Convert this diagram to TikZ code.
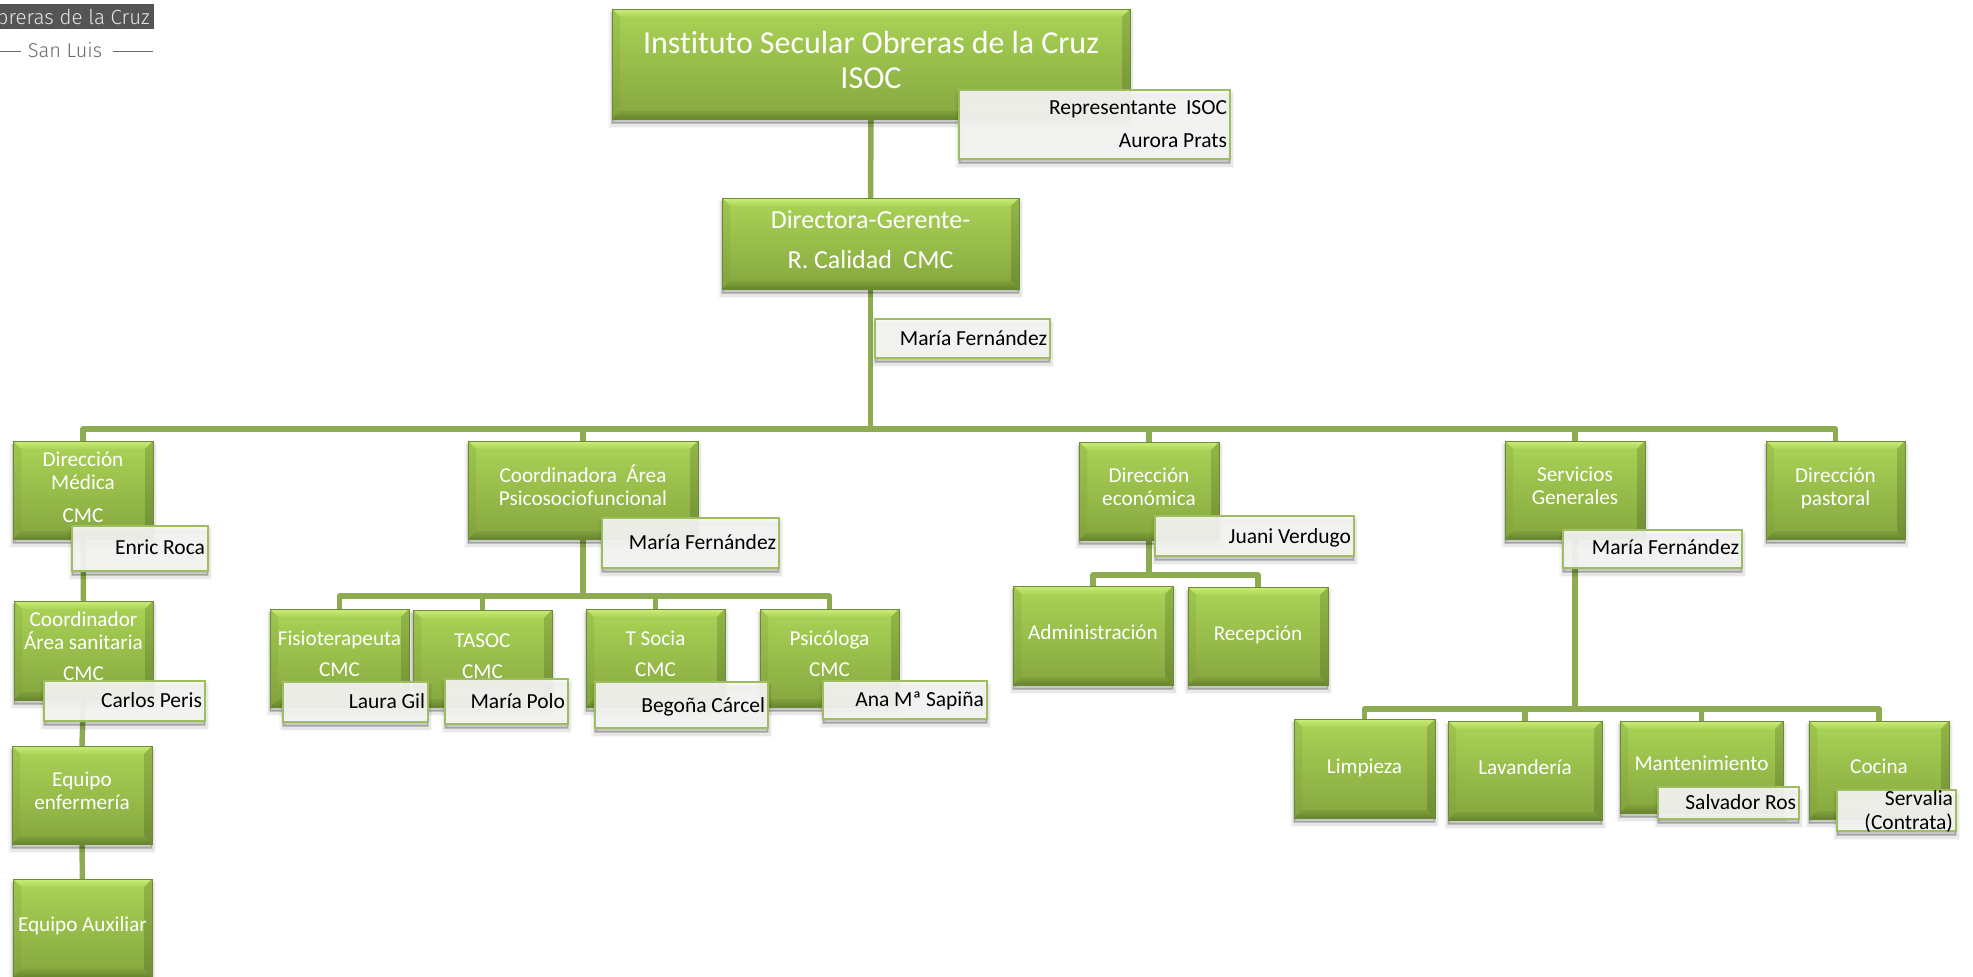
\documentclass[tikz,border=0pt]{standalone}
\usepackage{fontspec}
\setmainfont[Ligatures=NoCommon]{Carlito}
\newfontfamily\logofont{Fira Sans Light}
\usetikzlibrary{calc,backgrounds}
\newcommand\tfont[2]{\fontsize{#1}{#2}\selectfont}
\definecolor{conncol}{HTML}{8DAB50}
\definecolor{labeledge}{HTML}{9DBD5F}
\definecolor{labelfill}{HTML}{F5F5F4}
\definecolor{boxedge}{HTML}{6C8A34}
\definecolor{logogrey}{HTML}{555558}
\definecolor{logoline}{HTML}{6A6A6D}
\definecolor{boxtopa}{HTML}{A5CD52}
\definecolor{boxbot}{HTML}{7E9E3B}
\definecolor{bodytop}{HTML}{A7D054}
\definecolor{bodybot}{HTML}{88AA41}
\definecolor{toplight}{HTML}{CBEE78}
\definecolor{topdeep}{HTML}{A9D456}
\definecolor{lefttop}{HTML}{9FC64F}
\definecolor{leftbot}{HTML}{82A23D}
\definecolor{righttop}{HTML}{93B648}
\definecolor{rightbot}{HTML}{708E34}
\definecolor{bottop}{HTML}{80A03B}
\definecolor{botbot}{HTML}{67852E}
\tikzset{
  softshadow/.style={
    preaction={fill=black,fill opacity=.03,draw=black,draw opacity=.03,line width=8pt,transform canvas={yshift=-5pt}},
    preaction={fill=black,fill opacity=.06,draw=black,draw opacity=.06,line width=5pt,transform canvas={yshift=-5pt}},
    preaction={fill=black,fill opacity=.11,draw=black,draw opacity=.11,line width=2pt,transform canvas={yshift=-4pt}}},
  base/.style={rectangle,anchor=north west,inner xsep=0pt,inner ysep=0pt,outer sep=0pt},
  greenbox/.style={base,softshadow,draw=boxedge,line width=.6pt,text=white,align=center,
    font=\tfont{21.2}{23.5},
    path picture={
      \coordinate (nw) at (path picture bounding box.north west);
      \coordinate (ne) at (path picture bounding box.north east);
      \coordinate (se) at (path picture bounding box.south east);
      \coordinate (sw) at (path picture bounding box.south west);
      \coordinate (inw) at ($(nw)+(8,8)$);
      \coordinate (ine) at ($(ne)+(-8,8)$);
      \coordinate (ise) at ($(se)+(-8,-8)$);
      \coordinate (isw) at ($(sw)+(8,-8)$);
      \shade[top color=boxtopa,bottom color=boxbot] (nw) rectangle (se);
      \shade[top color=bodytop,bottom color=bodybot] (inw) rectangle (ise);
      \shade[top color=toplight,bottom color=topdeep] (nw) -- (ne) -- (ine) -- (inw) -- cycle;
      \shade[top color=lefttop,bottom color=leftbot] (nw) -- (inw) -- (isw) -- (sw) -- cycle;
      \shade[top color=righttop,bottom color=rightbot] (ne) -- (ine) -- (ise) -- (se) -- cycle;
      \shade[top color=bottop,bottom color=botbot] (sw) -- (isw) -- (ise) -- (se) -- cycle;
    }},
  glasslabel/.style={base,softshadow,draw=labeledge,line width=2pt,fill=labelfill,fill opacity=.93,text opacity=1,
    text=black,align=right,inner xsep=3pt,font=\tfont{21.5}{24}},
  conn/.style={draw=conncol,line width=5.5pt,line join=round},
}
% \gb[options]{name}{x1}{y1}{x2}{y2}{first baseline}{text}
\newcommand\gb[8][]{%
  \pgfmathsetmacro\boxw{#5-#3}\pgfmathsetmacro\boxh{#6-#4}\pgfmathsetmacro\boxb{#7-#4}\pgfmathsetmacro\boxd{\boxh-\boxb}%
  \node[greenbox,minimum width=\boxw pt,minimum height=\boxh pt,text width=\boxw pt,text height=\boxb pt,text depth=\boxd pt,#1] (#2) at (#3,#4) {\spaceskip=.22em\relax #8};}
\newcommand\lb[8][]{%
  \pgfmathsetmacro\boxw{#5-#3}\pgfmathsetmacro\boxt{\boxw-6}\pgfmathsetmacro\boxh{#6-#4}\pgfmathsetmacro\boxb{#7-#4}\pgfmathsetmacro\boxd{\boxh-\boxb}%
  \node[glasslabel,minimum width=\boxw pt,minimum height=\boxh pt,text width=\boxt pt,text height=\boxb pt,text depth=\boxd pt,#1] (#2) at (#3,#4) {\spaceskip=.22em\relax #8};}
\begin{document}
\begin{tikzpicture}[x=1pt,y=-1pt]
\useasboundingbox (0,0) rectangle (1973,977);
% logo
\fill[logogrey] (0,4) rectangle (154,29);
\begin{scope}
\clip (0,0) rectangle (1973,977);
\node[anchor=base east,text=white!90!black,inner sep=0pt,font=\logofont\fontsize{20.5}{24}\selectfont] (logoa) at (150,24) {Obreras de la Cruz};
\end{scope}
\node[anchor=base,text=logoline,inner sep=0pt,font=\logofont\fontsize{20}{22}\selectfont] (logob) at (65,57) {San Luis};
\draw[logoline,line width=1pt] (0,51) -- (21,51) (113,51) -- (153,51);
% green boxes
\gb[font=\tfont{32}{35}]{top}{612}{9}{1130}{119}{53}{Instituto Secular Obreras de la Cruz\\ISOC}
\gb[font=\tfont{26}{40}]{dir}{722}{198}{1019}{289}{228}{Directora-Gerente-\\R. Calidad\ \ CMC}
\gb{dm}{13}{441}{153}{539}{466}{Dirección\\Médica\\[9pt]CMC}
\gb{co}{14}{601}{153}{700}{626}{Coordinador\\Área sanitaria\\[7pt]CMC}
\gb{ee}{12}{746}{152}{844}{786}{Equipo\\enfermería}
\gb{ea}{13}{879}{152}{977}{931}{Equipo Auxiliar}
\gb{cp}{468}{441}{698}{539}{482}{Coordinadora\ \ Área\\Psicosociofuncional}
\gb{fi}{270}{609}{409}{707}{645}{Fisioterapeuta\\[8pt]CMC}
\gb{ta}{413}{610}{552}{707}{647}{TASOC\\[8pt]CMC}
\gb{ts}{586}{609}{725}{707}{645}{T Socia\\[8pt]CMC}
\gb{ps}{760}{609}{899}{707}{645}{Psicóloga\\[8pt]CMC}
\gb{de}{1079}{442}{1219}{540}{482}{Dirección\\económica}
\gb{ad}{1013}{586}{1173}{685}{639}{Administración}
\gb{re}{1188}{587}{1328}{685}{640}{Recepción}
\gb{sg}{1505}{441}{1645}{539}{481}{Servicios\\Generales}
\gb{dp}{1766}{441}{1905}{539}{482}{Dirección\\pastoral}
\gb{li}{1294}{719}{1435}{818}{773}{Limpieza}
\gb{la}{1448}{721}{1602}{820}{774}{Lavandería}
\gb{ma}{1620}{721}{1783}{813}{770}{Mantenimiento}
\gb{cc}{1809}{721}{1949}{819}{773}{Cocina}
% labels
\lb[font=\tfont{21.5}{33}]{l1}{959}{90}{1230}{159}{114}{Representante\ \ ISOC\\Aurora Prats}
\lb{l2}{875}{319}{1050}{358}{345}{María Fernández}
\lb{l3}{72}{526}{208}{571}{554}{Enric Roca}
\lb{l4}{44}{681}{205}{721}{707}{Carlos Peris}
\lb{l5}{283}{682}{428}{722}{708}{Laura Gil}
\lb{l6}{445}{679}{568}{724}{708}{María Polo}
\lb{l7}{602}{518}{779}{568}{549}{María Fernández}
\lb{l8}{595}{682}{768}{728}{712}{Begoña Cárcel}
\lb{l9}{823}{681}{987}{719}{706}{Ana Mª Sapiña}
\lb{l10}{1155}{516}{1354}{556}{543}{Juani Verdugo}
\lb{l11}{1563}{530}{1742}{568}{554}{María Fernández}
\lb{l12}{1658}{787}{1799}{819}{809}{Salvador Ros}
\lb{l13}{1837}{790}{1956}{831}{805}{Servalia\\(Contrata)}
% connectors
\coordinate (busmain) at (870,429);
\coordinate (buspsi) at (582,596);
\coordinate (buseco) at (1149,575);
\coordinate (busser) at (1575,709);
\begin{scope}[on background layer]
\fill[white] (0,0) rectangle (1973,977);
\draw[conn] (top.south) -- (dir.north);
\draw[conn] (dir.south) -- (dir |- busmain);
\foreach \ch in {dm,cp,de,sg,dp} \draw[conn] (dir |- busmain) -| (\ch.north);
\draw[conn] (dm.south) -- (co.north);
\draw[conn] (co.south) -- (ee.north);
\draw[conn] (ee.south) -- (ea.north);
\draw[conn] (cp.south) -- (cp |- buspsi);
\foreach \ch in {fi,ta,ts,ps} \draw[conn] (cp |- buspsi) -| (\ch.north);
\draw[conn] (de.south) -- (de |- buseco);
\foreach \ch in {ad,re} \draw[conn] (de |- buseco) -| (\ch.north);
\draw[conn] (sg.south) -- (sg |- busser);
\foreach \ch in {li,la,ma,cc} \draw[conn] (sg |- busser) -| (\ch.north);
\end{scope}
\end{tikzpicture}
\end{document}
